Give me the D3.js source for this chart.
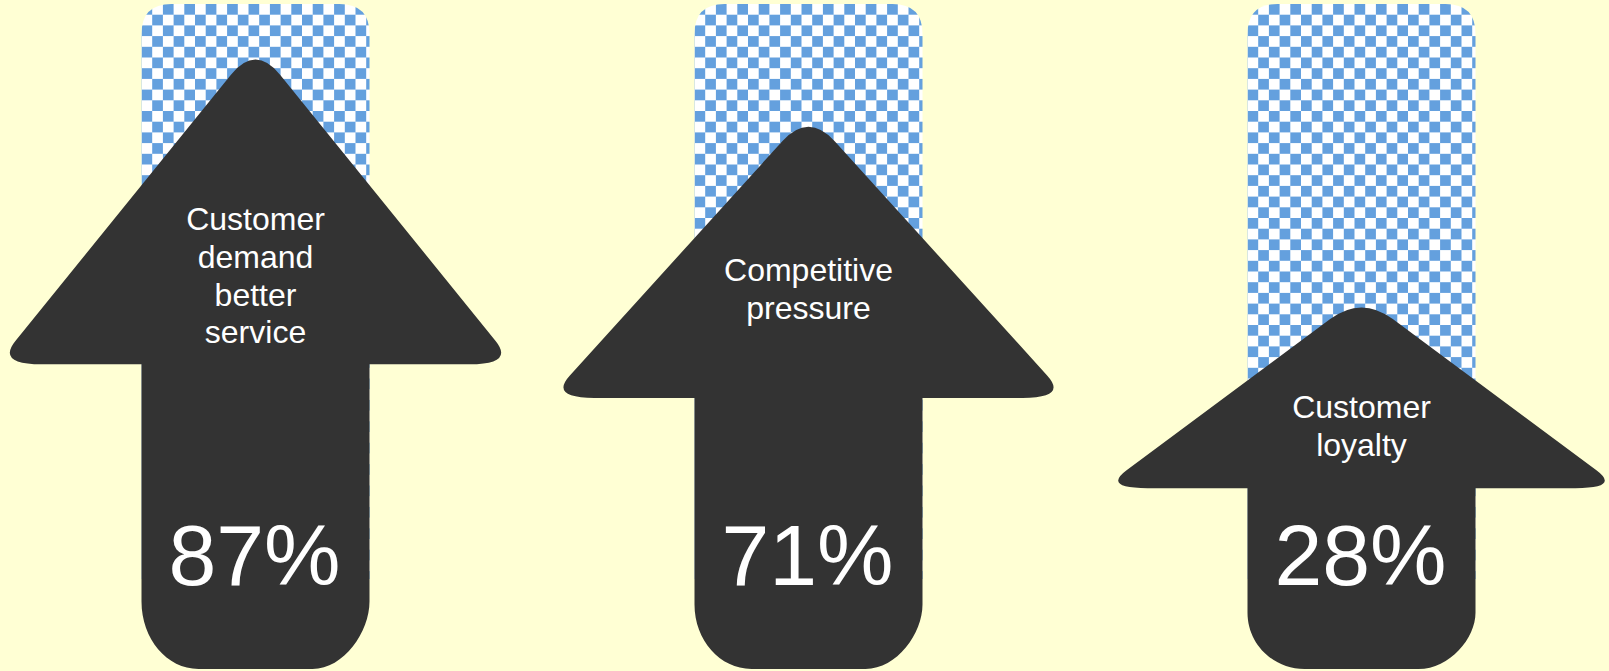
<!DOCTYPE html>
<html>
<head>
<meta charset="utf-8">
<script src="https://cdn.jsdelivr.net/npm/d3@7"></script>
<style>
  html, body { margin: 0; padding: 0; background: #ffffd4; overflow: hidden; }
  svg { display: block; }
</style>
</head>
<body>
<svg id="chart" width="1609" height="671"></svg>
<script>
// ---- data ----
const categories = ["Customer demand better service", "Competitive pressure", "Customer loyalty"];
const labelLines = [["Customer", "demand", "better", "service"], ["Competitive", "pressure"], ["Customer", "loyalty"]];
const values = [87, 71, 28];
const valueLabels = ["87%", "71%", "28%"];

// ---- layout ----
const W = 1609, H = 671;
const svg = d3.select("#chart");
svg.append("rect").attr("width", W).attr("height", H).attr("fill", "#ffffd4");

const x = d3.scalePoint().domain(categories).range([255.5, 1361.5]);
const y = d3.scaleLinear().domain([0, 100]).range([425, 5]);

const bottomY = 669, trackTop = 4;
const shaftHalf = 114, wingHalf = 259;
const tipR = 39, wingSide = 30, wingBase = 45;
const k = 0.5523;
const cell = 10.7;

const defs = svg.append("defs");

categories.forEach((c, i) => {
  const cx = x(c);
  const pat = defs.append("pattern")
    .attr("id", "chk" + i)
    .attr("patternUnits", "userSpaceOnUse")
    .attr("x", cx - shaftHalf).attr("y", trackTop)
    .attr("width", cell * 2).attr("height", cell * 2);
  pat.append("rect").attr("width", cell * 2).attr("height", cell * 2).attr("fill", "#ffffff");
  pat.append("rect").attr("width", cell).attr("height", cell).attr("fill", "#64a0de");
  pat.append("rect").attr("x", cell).attr("y", cell).attr("width", cell).attr("height", cell).attr("fill", "#64a0de");
});

const g = svg.append("g");

categories.forEach((c, i) => {
  const cx = x(c);
  const apex = y(values[i]);
  const base = apex + 0.5 * (bottomY - apex);

  // track (checker) with rounded top corners
  const tr = 30, l = cx - shaftHalf, r = cx + shaftHalf, tb = bottomY - 90;
  const tp = d3.path();
  tp.moveTo(l, tb);
  tp.lineTo(l, trackTop + tr);
  tp.quadraticCurveTo(l, trackTop, l + tr, trackTop);
  tp.lineTo(r - tr, trackTop);
  tp.quadraticCurveTo(r, trackTop, r, trackTop + tr);
  tp.lineTo(r, tb);
  tp.closePath();
  g.append("path").attr("d", tp.toString()).attr("fill", "url(#chk" + i + ")");

  // arrow
  let T = apex, ux = 0, uy = 0;
  for (let it = 0; it < 6; it++) {
    const dy = base - T;
    const L = Math.sqrt(wingHalf * wingHalf + dy * dy);
    ux = wingHalf / L; uy = dy / L;
    T = apex - 0.5 * tipR * uy;
  }
  const Hs = bottomY - apex;
  const ry = 40 + 0.045 * Hs, rx = 57;
  const p = d3.path();
  p.moveTo(cx - tipR * ux, T + tipR * uy);
  p.lineTo(cx - wingHalf + wingSide * ux, base - wingSide * uy);
  p.quadraticCurveTo(cx - wingHalf, base, cx - wingHalf + wingBase, base);
  p.lineTo(cx - shaftHalf, base);
  p.lineTo(cx - shaftHalf, bottomY - ry);
  p.bezierCurveTo(cx - shaftHalf, bottomY - ry + k * ry, cx - shaftHalf + rx - k * rx, bottomY, cx - shaftHalf + rx, bottomY);
  p.lineTo(cx + shaftHalf - rx, bottomY);
  p.bezierCurveTo(cx + shaftHalf - rx + k * rx, bottomY, cx + shaftHalf, bottomY - k * ry, cx + shaftHalf, bottomY - ry);
  p.lineTo(cx + shaftHalf, base);
  p.lineTo(cx + wingHalf - wingBase, base);
  p.quadraticCurveTo(cx + wingHalf, base, cx + wingHalf - wingSide * ux, base - wingSide * uy);
  p.lineTo(cx + tipR * ux, T + tipR * uy);
  p.quadraticCurveTo(cx, T, cx - tipR * ux, T + tipR * uy);
  p.closePath();
  g.append("path").attr("d", p.toString()).attr("fill", "#333333");

  // category label
  const firstBaseline = apex + 0.485 * (base - apex) + 23;
  const t = g.append("text")
    .attr("text-anchor", "middle")
    .attr("font-family", "'Liberation Sans', Arial, sans-serif")
    .attr("font-size", 32)
    .attr("fill", "#ffffff");
  labelLines[i].forEach((ln, j) => {
    t.append("tspan").attr("x", cx).attr("y", firstBaseline + j * 37.7).text(ln);
  });

  // value label
  g.append("text")
    .attr("x", cx - 1)
    .attr("y", bottomY - 84)
    .attr("text-anchor", "middle")
    .attr("font-family", "'Liberation Sans', Arial, sans-serif")
    .attr("font-size", 86)
    .attr("fill", "#ffffff")
    .text(valueLabels[i]);
});
</script>
</body>
</html>
